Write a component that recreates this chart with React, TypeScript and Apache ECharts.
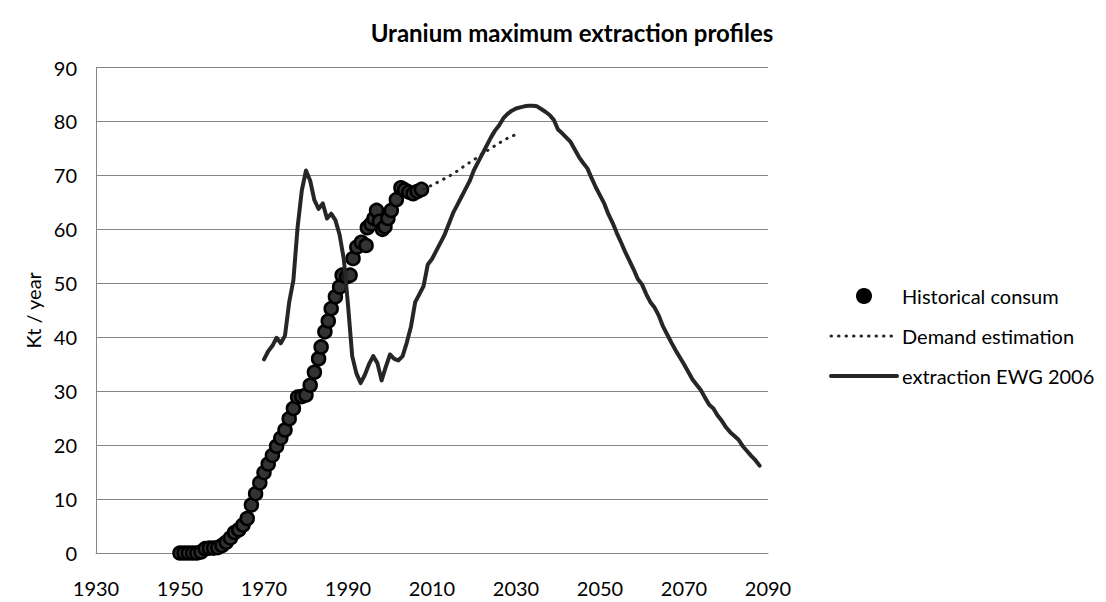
import React, { useEffect, useRef } from "react";
import * as echarts from "echarts";

const xTicks = { min: 1930, max: 2090, interval: 20 };
const yTicks = { min: 0, max: 90, interval: 10 };

const seriesNames = ["Historical consum", "Demand estimation", "extraction EWG 2006"];

// Historical consumption [year, kt/year]
const historical: [number, number][] = [
  [1950, 0], [1951, 0], [1952, 0], [1953, 0], [1954, 0], [1955, 0.2],
  [1956, 0.8], [1957, 0.9], [1958, 0.9], [1959, 1.0], [1960, 1.4], [1961, 2.0],
  [1962, 2.8], [1963, 3.8], [1964, 4.3], [1965, 5.2], [1966, 6.4], [1967, 8.9],
  [1968, 11.0], [1969, 13.0], [1970, 14.9], [1971, 16.5], [1972, 18.1], [1973, 19.8],
  [1974, 21.3], [1975, 22.8], [1976, 24.9], [1977, 26.8], [1978, 28.9], [1979, 29.0],
  [1980, 29.3], [1981, 31.1], [1982, 33.5], [1983, 36.0], [1983.6, 38.2], [1984.5, 41.0],
  [1985.3, 43.0], [1986, 45.3], [1987, 47.5], [1988, 49.3], [1988.6, 51.5], [1989.7, 51.2],
  [1990.5, 51.5], [1991.2, 54.6], [1992.1, 56.7], [1993.2, 57.6], [1994.3, 57.0], [1994.6, 60.3],
  [1995.5, 61.0], [1996.2, 62.0], [1996.8, 63.5], [1997.5, 61.5], [1998.2, 60.0], [1998.8, 60.5],
  [1999.5, 62.0], [2000.3, 63.5], [2001.5, 65.5], [2002.6, 67.7], [2003.5, 67.3], [2004.5, 66.9],
  [2005.5, 66.6], [2006.5, 67.0], [2007.5, 67.4],
];

// Demand estimation [year, kt/year]
const demand: [number, number][] = [
  [2008, 67.4], [2010, 68.2], [2012, 69.0], [2014, 69.8], [2016, 70.8], [2018, 71.9],
  [2020, 72.9], [2022, 74.0], [2024, 75.0], [2026, 76.0], [2028, 76.9], [2030, 77.6],
];

// Extraction EWG 2006 [year, kt/year]
const extraction: [number, number][] = [
  [1970, 35.9], [1971, 37.4], [1972, 38.4], [1973, 39.9], [1974, 38.9], [1975, 40.3],
  [1976, 46.5], [1977, 50.6], [1978, 60.4], [1979, 67.2], [1980, 70.9], [1981, 69.0],
  [1982, 65.4], [1983, 63.8], [1984, 64.8], [1985, 62.0], [1986, 62.9], [1987, 61.7],
  [1988, 59.0], [1989, 54.5], [1990, 46.0], [1991, 36.5], [1992, 33.3], [1993, 31.5],
  [1994, 33.0], [1995, 35.0], [1996, 36.5], [1997, 35.2], [1998, 32.0], [1999, 34.5],
  [2000, 36.8], [2001, 36.0], [2002, 35.7], [2003, 36.5], [2004, 39.0], [2005, 42.0],
  [2006, 46.5], [2007, 48.0], [2008, 49.5], [2009, 53.5], [2010, 54.5], [2011, 56.0],
  [2012, 57.5], [2013, 59.0], [2014, 61.0], [2015, 63.0], [2016, 64.5], [2017, 66.0],
  [2018, 67.5], [2019, 69.0], [2020, 71.0], [2021, 72.5], [2022, 74.0], [2023, 75.5],
  [2024, 77.0], [2025, 78.3], [2026, 79.3], [2027, 80.6], [2028, 81.4], [2029, 82.0],
  [2030, 82.4], [2031, 82.6], [2032, 82.8], [2033, 82.9], [2034, 82.9], [2035, 82.8],
  [2036, 82.3], [2037, 81.8], [2038, 81.2], [2039, 80.3], [2040, 78.5], [2041, 77.8],
  [2042, 77.0], [2043, 76.2], [2044, 74.8], [2045, 73.4], [2046, 72.3], [2047, 71.3],
  [2048, 69.5], [2049, 67.8], [2050, 66.3], [2051, 64.8], [2052, 62.8], [2053, 61.2],
  [2054, 59.3], [2055, 57.6], [2056, 55.8], [2057, 54.2], [2058, 52.6], [2059, 50.8],
  [2060, 49.8], [2061, 48.0], [2062, 46.5], [2063, 45.5], [2064, 44.0], [2065, 42.0],
  [2066, 40.5], [2067, 39.0], [2068, 37.6], [2069, 36.3], [2070, 35.0], [2071, 33.6],
  [2072, 32.2], [2073, 31.2], [2074, 30.2], [2075, 28.8], [2076, 27.5], [2077, 26.8],
  [2078, 25.5], [2079, 24.5], [2080, 23.3], [2081, 22.4], [2082, 21.7], [2083, 21.0],
  [2084, 19.8], [2085, 18.9], [2086, 18.0], [2087, 17.2], [2088, 16.2],
];

const FONT = "Lato, 'Open Sans', sans-serif";
const INK = "#262626";
const GRID = "#868686";
const DOTTED = [0.5, 7];

export default function App() {
  const ref = useRef<HTMLDivElement>(null);
  useEffect(() => {
    if (!ref.current) return;
    const chart = echarts.init(ref.current, undefined, { renderer: "svg" });
    chart.setOption({
      animation: false,
      backgroundColor: "#fff",
      textStyle: { fontFamily: FONT, color: "#000" },
      title: {
        text: "Uranium maximum extraction profiles",
        left: 567,
        top: 15,
        textAlign: "center",
        textStyle: { fontFamily: FONT, fontSize: 24, fontWeight: "bold", color: "#000" },
      },
      grid: { left: 96, right: 338, top: 67.5, bottom: 49, containLabel: false },
      xAxis: {
        type: "value",
        min: xTicks.min,
        max: xTicks.max,
        interval: xTicks.interval,
        axisLine: { show: true, onZero: false, lineStyle: { color: GRID, width: 1 } },
        axisTick: { show: false },
        splitLine: { show: false },
        axisLabel: {
          color: "#000",
          fontSize: 20,
          margin: 25,
          fontFamily: FONT,
          formatter: (v: number) => String(v),
        },
      },
      yAxis: {
        type: "value",
        min: yTicks.min,
        max: yTicks.max,
        interval: yTicks.interval,
        name: "Kt / year",
        nameLocation: "middle",
        nameRotate: 90,
        nameGap: 53,
        nameTextStyle: { color: "#000", fontSize: 20, fontFamily: FONT },
        axisLine: { show: true, lineStyle: { color: GRID, width: 1 } },
        axisTick: { show: false },
        splitLine: { show: true, lineStyle: { color: GRID, width: 1 } },
        axisLabel: { color: "#000", fontSize: 20, margin: 19, fontFamily: FONT },
      },
      legend: {
        orient: "vertical",
        left: 824,
        top: 281,
        itemWidth: 66,
        itemHeight: 14,
        itemGap: 20,
        textStyle: { color: "#000", fontSize: 20, fontFamily: FONT },
        data: [
          { name: seriesNames[0], icon: "circle", itemStyle: { color: "#000", opacity: 1 } },
          {
            name: seriesNames[1],
            itemStyle: { opacity: 0 },
            lineStyle: { color: INK, width: 3, type: DOTTED, cap: "round" },
          },
          {
            name: seriesNames[2],
            itemStyle: { opacity: 0 },
            lineStyle: { color: INK, width: 4 },
          },
        ],
      },
      series: [
        {
          name: seriesNames[0],
          type: "scatter",
          data: historical,
          symbol: "circle",
          symbolSize: 13,
          itemStyle: { color: "#333333", borderColor: "#000", borderWidth: 2.5, opacity: 1 },
          z: 2,
        },
        {
          name: seriesNames[1],
          type: "line",
          data: demand,
          showSymbol: false,
          symbol: "none",
          itemStyle: { color: INK },
          lineStyle: { color: INK, width: 3, type: DOTTED, cap: "round" },
          z: 3,
        },
        {
          name: seriesNames[2],
          type: "line",
          data: extraction,
          showSymbol: false,
          symbol: "none",
          itemStyle: { color: INK },
          lineStyle: { color: INK, width: 4, join: "round", cap: "round" },
          z: 4,
        },
      ],
    });
    return () => chart.dispose();
  }, []);
  return <div ref={ref} style={{ width: 1106, height: 602, position: "absolute", left: 0, top: 0 }} />;
}
